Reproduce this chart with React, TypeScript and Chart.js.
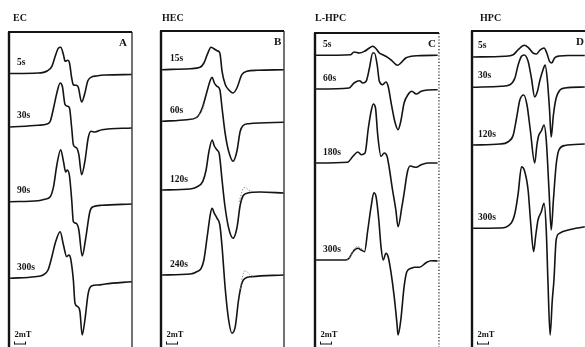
import React, { useEffect, useRef } from "react";
import { Chart, registerables } from "chart.js";

Chart.register(...registerables);

// Field axis: mT measured from the left edge of each panel. Intensity: a.u. (derivative EPR signal).
// Stacking offsets: a.u. below the top of the panel.

// ---------- Panel A : EC ----------
const ecTimes = ["5s", "30s", "90s", "300s"];
const ecOffsets = [41.5, 94.5, 169.5, 246];
const ec5Field = [0.2, 5.3, 7.0, 7.8, 8.4, 9.0, 9.4, 9.9, 10.2, 10.7, 11.0, 11.4, 11.7, 12.2, 12.6, 13.2, 13.8, 14.3, 14.9, 15.9, 17.5, 22.3];
const ec5Int = [0, 0.5, 2.8, 7.2, 17.2, 25.5, 26.2, 18.8, 12.2, 13.2, 10.5, -4.5, -11.2, -11.8, -13.8, -28.5, -19.5, -7.8, -3.8, -2.5, -1.5, -1];
const ec30Field = [0.2, 5.3, 6.9, 7.5, 8.1, 8.7, 9.3, 9.7, 10.2, 10.7, 11.0, 11.4, 11.7, 12.3, 12.7, 13.2, 13.8, 14.4, 14.9, 15.6, 16.9, 22.3];
const ec30Int = [-0.5, 1.2, 2.5, 5.2, 18.5, 33.5, 43.5, 40.2, 21.8, 20.2, 18.5, -1.5, -18.2, -21.5, -28.2, -48.2, -34.8, -11.5, -4.8, -5.5, -3.2, -1.5];
const ec90Field = [0.2, 5.3, 6.5, 7.5, 8.1, 8.7, 9.4, 9.9, 10.3, 10.6, 11.0, 11.4, 11.7, 12.2, 12.7, 13.3, 13.9, 14.7, 15.3, 16.9, 22.3];
const ec90Int = [-0.2, 0.8, 2.2, 4.8, 14.8, 36.5, 51.8, 40.2, 29.5, 31.5, 25.5, 1.5, -20.2, -21.8, -28.5, -54.5, -38.5, -10.2, -5.2, -3.8, -2.5];
const ec300Field = [0.2, 4.7, 6.2, 7.1, 7.8, 8.4, 9.3, 9.9, 10.5, 10.9, 11.2, 11.7, 12.0, 12.5, 12.9, 13.3, 13.8, 14.4, 15.0, 16.2, 17.5, 22.3];
const ec300Int = [-0.3, 1.3, 3, 8, 21.3, 34.7, 46.3, 33, 21.3, 23, 19.7, -2, -25.3, -28.7, -33.7, -57, -42, -15.3, -8, -7, -6, -3.7];

// ---------- Panel B : HEC ----------
const hecTimes = ["15s", "60s", "120s", "240s"];
const hecOffsets = [38.5, 90, 159, 244];
const hec15Field = [0.2, 5.3, 7.1, 7.8, 8.4, 9.1, 9.6, 10.2, 10.7, 11.1, 11.7, 12.3, 13.1, 13.8, 14.7, 15.6, 17.5, 22.3];
const hec15Int = [-0.2, 0.8, 2.2, 6.5, 14.8, 22.2, 20.8, 18.8, 16.5, -1.8, -15.2, -20.2, -23.5, -18.5, -5.2, -1.8, -0.8, -0.2];
const hec60Field = [0.2, 4.7, 6.5, 7.5, 8.2, 9.0, 9.3, 9.7, 10.2, 10.7, 11.1, 11.7, 12.3, 13.1, 13.8, 14.4, 14.9, 15.9, 22.3];
const hec60Int = [-0.3, 1.3, 3.7, 13, 26.3, 41.3, 43.7, 38, 34.7, 31.3, 13, -13.7, -30.3, -40.3, -30.3, -10.3, -4.7, -2.7, -1.3];
const hec120Field = [0.2, 5.3, 6.5, 7.6, 8.2, 8.7, 9.3, 9.7, 10.2, 10.6, 11.1, 11.6, 12.3, 13.1, 13.8, 14.4, 14.9, 15.8, 18.0, 22.3];
const hec120Int = [0, 1, 3, 8.7, 20, 38, 50, 44, 40, 36, 10, -15, -38, -48.3, -38, -15, -6, -3, -2, -3];
const hec240Field = [0.2, 5.3, 6.5, 7.3, 7.8, 8.4, 9.0, 9.3, 9.7, 10.2, 10.7, 11.1, 11.7, 12.3, 12.9, 13.5, 14.1, 14.7, 15.3, 16.5, 22.3];
const hec240Int = [0, 1, 3.3, 6.7, 15, 38.3, 61.7, 66.7, 61.7, 56.7, 50, 28.3, -15, -45, -58.3, -51.7, -25, -8.3, -3.3, -1.7, 0];
// simulated spectra (dotted), only where they separate from the experiment
const hec60SimField = [6.2, 6.9, 7.4, 7.9];
const hec60SimInt = [2.5, 6.5, 9, 17];
const hec120SimField = [14.2, 14.7, 15.1, 15.5, 16.0, 16.6];
const hec120SimInt = [-12, -2, 2.5, 2, -0.5, -1.5];
const hec240SimField = [14.4, 14.8, 15.2, 15.6, 16.1, 16.7];
const hec240SimInt = [-14, -2, 4, 3.5, 0.5, -1];

// ---------- Panel C : L-HPC ----------
const lhpcTimes = ["5s", "60s", "180s", "300s"];
const lhpcOffsets = [22.3, 56, 130, 227];
const lhpc5Field = [0.2, 6.5, 7.1, 8.1, 9.0, 9.9, 10.5, 11.1, 11.7, 12.3, 13.2, 14.1, 15.0, 15.6, 16.5, 17.5, 18.7, 22.3];
const lhpc5Int = [0, 0.6, 3.3, 2.3, 4, 7.3, 9, 6.6, 2.3, 0.6, -2, -6, -10, -7.7, -2.7, -1, -0.4, 0];
const lhpc60Field = [0.2, 6.2, 7.1, 8.1, 8.7, 9.3, 9.9, 10.5, 10.8, 11.3, 11.7, 12.3, 12.9, 13.3, 13.9, 14.5, 15.1, 15.6, 16.2, 16.9, 17.6, 18.4, 19.3, 20.5, 22.3];
const lhpc60Int = [0, 1, 6, 8.3, 6, 7.7, 21, 36, 36, 24.3, 7.7, 4.3, 7, 2.7, -15.7, -32.3, -40.7, -32.3, -14, -5.7, -2.3, -5, -2.3, -1, -0.7];
const lhpc180Field = [0.2, 5.9, 6.9, 7.8, 8.4, 9.1, 9.7, 10.2, 10.6, 11.0, 11.4, 12.0, 12.6, 13.1, 13.5, 14.1, 14.7, 15.1, 15.8, 16.2, 16.8, 17.3, 18.4, 19.3, 20.5, 22.3];
const lhpc180Int = [0, 0.7, 6.7, 11, 8.3, 10, 35, 51.7, 59, 55, 28.3, 6.7, 10, 6.7, -5, -27, -47, -63.7, -43.7, -30.3, -9, -3, -4.3, -1.7, 0, 0];
const lhpc300Field = [0.2, 5.6, 6.2, 6.9, 7.8, 8.4, 9.0, 9.6, 10.2, 10.7, 11.1, 11.6, 12.0, 12.4, 12.9, 13.3, 13.8, 14.4, 14.9, 15.1, 15.6, 16.2, 16.7, 17.5, 18.1, 19.0, 20.2, 21.1, 22.3];
const lhpc300Int = [0, 0, 1.7, 8.3, 11.7, 10, 8.3, 30, 53.3, 67.3, 63.3, 40, 13.3, 0, 6.7, 3.3, -11.7, -36.7, -63.3, -75, -60, -26.7, -11.7, -8.3, -7.3, -7.3, -2.7, -0.7, -1];
const lhpc300SimField = [5.8, 6.4, 7.0, 7.7, 8.3, 8.9];
const lhpc300SimInt = [0.5, 3.5, 10, 13.5, 12, 9];

// ---------- Panel D : HPC ----------
const hpcTimes = ["5s", "30s", "120s", "300s"];
const hpcOffsets = [25.5, 55.5, 114, 197.3];
const hpc5Field = [0.2, 5.9, 7.5, 8.4, 9.5, 10.2, 11.1, 11.7, 12.3, 13.1, 13.6, 14.1, 14.5, 15.0, 15.9, 17.5, 20.5];
const hpc5Int = [-0.5, 0.2, 1.8, 6.8, 11.2, 9.2, 3.5, 2.5, 6, 8.5, 3.5, -4.8, -6.5, -1.5, 0.5, 1, 1];
const hpc30Field = [0.2, 5.3, 6.9, 7.8, 8.4, 9.0, 9.5, 10.2, 10.8, 11.4, 11.9, 12.3, 12.9, 13.3, 13.7, 14.1, 14.4, 14.8, 15.3, 16.0, 16.9, 20.5];
const hpc30Int = [-0.8, 0.2, 1.8, 8.5, 21.8, 30.2, 31.5, 25.2, 8.5, -10.5, -4.8, 5.2, 16.5, 21.5, 6.5, -23.5, -50.5, -28.5, -11.5, -3.5, -1.5, -0.5];
const hpc120Field = [0.2, 5.1, 6.5, 7.5, 8.1, 8.7, 9.4, 10.0, 10.6, 11.4, 11.8, 12.1, 12.6, 13.1, 13.5, 14.0, 14.4, 14.8, 15.3, 15.8, 16.9, 20.5];
const hpc120Int = [0, 1, 3, 10, 27, 45, 50, 40, 15, -18, 0, 9, 14, 20, 5, -45, -85, -55, -20, -5, -0.5, 1];
const hpc300Field = [0.2, 5.1, 7.1, 7.8, 8.4, 9.0, 9.5, 10.2, 10.7, 11.2, 11.6, 12.0, 12.6, 13.1, 13.5, 13.8, 14.2, 14.6, 14.9, 15.3, 15.9, 17.5, 20.5];
const hpc300Int = [0, 0.3, 5, 15, 35, 61.6, 58.3, 38.3, 3.3, -23.4, -6.7, 8.3, 16.6, 25, -1.7, -51.7, -106.7, -71.7, -51.7, -11.7, -5, -1.7, 1.6];

const scaleBarLabel = "2mT";
const scaleBarMT = 2;

// ---------- layout (not data) ----------
const PX_PER_MT = 5.5;
const PAD = 3;
const H = 347;
const INK = "#141414";

type Trace = { label: string; offset: number; field: number[]; intensity: number[] };
type Sim = { offset: number; field: number[]; intensity: number[] };
type Panel = {
  title: string; letter: string; left: number; top: number; width: number;
  rightBorder: "solid" | "dotted" | "none"; titleX: number; letterX: number; labelDx: number;
  traces: Trace[]; sims: Sim[];
};

const mk = (times: string[], offsets: number[], fields: number[][], ints: number[][]): Trace[] =>
  times.map((t, i) => ({ label: t, offset: offsets[i], field: fields[i], intensity: ints[i] }));

const panels: Panel[] = [
  {
    title: "EC", letter: "A", left: 9, top: 32, width: 123, rightBorder: "solid", titleX: 13, letterX: 110, labelDx: 8,
    traces: mk(ecTimes, ecOffsets, [ec5Field, ec30Field, ec90Field, ec300Field], [ec5Int, ec30Int, ec90Int, ec300Int]),
    sims: [],
  },
  {
    title: "HEC", letter: "B", left: 161, top: 31, width: 123, rightBorder: "solid", titleX: 162, letterX: 113, labelDx: 9,
    traces: mk(hecTimes, hecOffsets, [hec15Field, hec60Field, hec120Field, hec240Field], [hec15Int, hec60Int, hec120Int, hec240Int]),
    sims: [
      { offset: hecOffsets[1], field: hec60SimField, intensity: hec60SimInt },
      { offset: hecOffsets[2], field: hec120SimField, intensity: hec120SimInt },
      { offset: hecOffsets[3], field: hec240SimField, intensity: hec240SimInt },
    ],
  },
  {
    title: "L-HPC", letter: "C", left: 315, top: 33, width: 124, rightBorder: "dotted", titleX: 315, letterX: 113, labelDx: 8,
    traces: mk(lhpcTimes, lhpcOffsets, [lhpc5Field, lhpc60Field, lhpc180Field, lhpc300Field], [lhpc5Int, lhpc60Int, lhpc180Int, lhpc300Int]),
    sims: [{ offset: lhpcOffsets[3], field: lhpc300SimField, intensity: lhpc300SimInt }],
  },
  {
    title: "HPC", letter: "D", left: 472, top: 31, width: 113, rightBorder: "none", titleX: 480, letterX: 104, labelDx: 6,
    traces: mk(hpcTimes, hpcOffsets, [hpc5Field, hpc30Field, hpc120Field, hpc300Field], [hpc5Int, hpc30Int, hpc120Int, hpc300Int]),
    sims: [],
  },
];

function decorPlugin(panel: Panel) {
  return {
    id: "decor",
    afterDraw(chart: any) {
      const { ctx, chartArea } = chart;
      const xs = chart.scales.x;
      const ys = chart.scales.y;
      const { left, top, right, bottom } = chartArea;
      ctx.save();
      ctx.strokeStyle = INK;
      ctx.fillStyle = INK;
      // frame
      ctx.lineWidth = 2.4;
      ctx.beginPath();
      ctx.moveTo(left, bottom + 2);
      ctx.lineTo(left, top);
      ctx.stroke();
      ctx.lineWidth = 2;
      ctx.beginPath();
      ctx.moveTo(left - 1, top);
      ctx.lineTo(panel.rightBorder === "none" ? right + 2 : right, top);
      ctx.stroke();
      if (panel.rightBorder !== "none") {
        ctx.lineWidth = 1.2;
        if (panel.rightBorder === "dotted") ctx.setLineDash([1.2, 2]);
        ctx.beginPath();
        ctx.moveTo(right, top);
        ctx.lineTo(right, bottom + 2);
        ctx.stroke();
        ctx.setLineDash([]);
      }
      // title
      ctx.textBaseline = "middle";
      ctx.textAlign = "left";
      ctx.font = "bold 10px 'Liberation Serif'";
      ctx.fillText(panel.title, panel.titleX - (panel.left - PAD), 18);
      // letter
      ctx.font = "bold 11px 'Liberation Serif'";
      ctx.fillText(panel.letter, left + panel.letterX, top + 11);
      // trace labels
      ctx.font = "bold 9.5px 'Liberation Serif'";
      panel.traces.forEach((t) => {
        const yb = ys.getPixelForValue(-t.offset);
        ctx.fillText(t.label, left + panel.labelDx, yb - 10.5);
      });
      // scale bar
      const x0 = xs.getPixelForValue(1);
      const x1 = xs.getPixelForValue(1 + scaleBarMT);
      const yBar = 344;
      ctx.font = "bold 8.5px 'Liberation Serif'";
      ctx.fillText(scaleBarLabel, x0, 335);
      ctx.lineWidth = 1;
      ctx.beginPath();
      ctx.moveTo(x0, yBar - 2.5);
      ctx.lineTo(x0, yBar + 0.5);
      ctx.moveTo(x0, yBar);
      ctx.lineTo(x1, yBar);
      ctx.moveTo(x1, yBar - 2.5);
      ctx.lineTo(x1, yBar + 0.5);
      ctx.stroke();
      ctx.restore();
    },
  };
}

function PanelChart({ panel }: { panel: Panel }) {
  const ref = useRef<HTMLCanvasElement | null>(null);
  const padRight = panel.rightBorder === "none" ? 0 : PAD;
  const w = panel.width + PAD + padRight;
  useEffect(() => {
    const canvas = ref.current;
    if (!canvas) return;
    const simSets = panel.sims.map((s) => ({
      label: "sim",
      data: s.field.map((f, i) => ({ x: f, y: s.intensity[i] - s.offset })),
      borderColor: "#8a8a8a",
      borderWidth: 1,
      borderDash: [1.5, 1.5],
      pointRadius: 0,
      fill: false,
      cubicInterpolationMode: "monotone" as const,
    }));
    const datasets = panel.traces.map((t) => ({
      label: t.label,
      data: t.field.map((f, i) => ({ x: f, y: t.intensity[i] - t.offset })),
      borderColor: INK,
      borderWidth: 1.6,
      pointRadius: 0,
      fill: false,
      cubicInterpolationMode: "monotone" as const,
    }));
    const chart = new Chart(canvas, {
      type: "line",
      data: { datasets: [...simSets, ...datasets] },
      options: {
        responsive: false,
        animation: false,
        devicePixelRatio: 1,
        events: [],
        layout: { padding: { left: PAD, right: padRight, top: panel.top, bottom: 0 } },
        scales: {
          x: { type: "linear", display: false, min: 0, max: panel.width / PX_PER_MT },
          y: { type: "linear", display: false, min: -(H - panel.top), max: 0 },
        },
        plugins: { legend: { display: false }, tooltip: { enabled: false }, title: { display: false } },
      },
      plugins: [decorPlugin(panel)],
    } as any);
    return () => chart.destroy();
  }, []);
  return (
    <canvas
      ref={ref}
      width={w}
      height={H}
      style={{ position: "absolute", left: panel.left - PAD, top: 0, width: w, height: H }}
    />
  );
}

export default function App() {
  return (
    <div style={{ position: "fixed", left: 0, top: 0, width: 585, height: 347, overflow: "hidden", background: "#fff" }}>
      {panels.map((p) => (
        <PanelChart key={p.letter} panel={p} />
      ))}
    </div>
  );
}
